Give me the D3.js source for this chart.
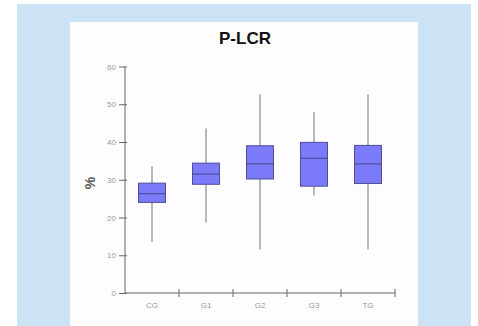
<!DOCTYPE html>
<html>
<head>
<meta charset="utf-8">
<script src="https://cdn.jsdelivr.net/npm/d3@7"></script>
<style>
  html, body { margin: 0; padding: 0; background: #ffffff; }
  svg { display: block; }
</style>
</head>
<body>
<svg id="chart" width="478" height="326"></svg>
<script>
// box plot values
const groups = ['CG', 'G1', 'G2', 'G3', 'TG'];
const whiskerLow = [13.5, 18.7, 11.6, 25.8, 11.6];
const q1 = [24.0, 28.8, 30.2, 28.3, 29.0];
const median = [26.3, 31.5, 34.2, 35.7, 34.2];
const q3 = [29.1, 34.4, 39.0, 39.9, 39.1];
const whiskerHigh = [33.6, 43.6, 52.6, 47.9, 52.6];
const yTicks = [0, 10, 20, 30, 40, 50, 60];

const svg = d3.select('#chart');

// backgrounds
svg.append('rect')
    .attr('x', 17).attr('y', 4)
    .attr('width', 454).attr('height', 322)
    .attr('fill', '#cce2f5');

svg.append('rect')
    .attr('x', 70).attr('y', 22)
    .attr('width', 348).attr('height', 304)
    .attr('fill', '#fdfdfd');

const x = d3.scaleBand()
    .domain(groups)
    .range([125, 395]);

const y = d3.scaleLinear()
    .domain([0, 60])
    .range([293, 66.5]);

// Title
svg.append('text')
    .attr('x', 245)
    .attr('y', 44)
    .attr('text-anchor', 'middle')
    .style('font-family', 'Liberation Sans, Arial, sans-serif')
    .style('font-weight', 'bold')
    .style('font-size', '17px')
    .attr('fill', '#111')
    .text('P-LCR');

// Y axis
const yAxis = svg.append('g')
    .attr('transform', 'translate(125,0)')
    .call(d3.axisLeft(y).tickValues(yTicks).tickSize(6).tickPadding(3));
yAxis.selectAll('.tick line').attr('x1', 2);
yAxis.select('.domain').attr('d', 'M0,' + y(60) + 'V' + y(0));

// X axis
const xAxis = svg.append('g')
    .attr('transform', 'translate(0,293)')
    .call(d3.axisBottom(x).tickSize(0).tickPadding(9));
xAxis.select('.domain').attr('d', 'M125,0H395');

// crossing ticks at band borders
svg.append('g')
    .selectAll('line')
    .data(groups)
    .enter()
    .append('line')
    .attr('x1', d => x(d) + x.bandwidth())
    .attr('x2', d => x(d) + x.bandwidth())
    .attr('y1', 289)
    .attr('y2', 297)
    .attr('stroke', '#666')
    .attr('stroke-width', 1);

svg.selectAll('.domain, .tick line')
    .attr('stroke', '#666');
svg.selectAll('.tick text')
    .attr('fill', '#999')
    .style('font-family', 'Liberation Sans, Arial, sans-serif')
    .style('font-size', '8px');

// Y label
svg.append('text')
    .attr('transform', 'translate(95,183) rotate(-90)')
    .attr('text-anchor', 'middle')
    .style('font-family', 'Liberation Sans, Arial, sans-serif')
    .style('font-weight', 'bold')
    .style('font-size', '14px')
    .attr('fill', '#555')
    .text('%');

// Boxes
const boxW = 27;
const boxes = svg.append('g')
    .selectAll('g')
    .data(groups)
    .enter()
    .append('g');

boxes.append('line')
    .attr('x1', d => x(d) + x.bandwidth() / 2)
    .attr('x2', d => x(d) + x.bandwidth() / 2)
    .attr('y1', (d, i) => y(whiskerHigh[i]))
    .attr('y2', (d, i) => y(whiskerLow[i]))
    .attr('stroke', '#a0a0a0')
    .attr('stroke-width', 1.5);

boxes.append('rect')
    .attr('x', d => x(d) + x.bandwidth() / 2 - boxW / 2)
    .attr('y', (d, i) => y(q3[i]))
    .attr('width', boxW)
    .attr('height', (d, i) => y(q1[i]) - y(q3[i]))
    .attr('fill', '#7b7bfa')
    .attr('stroke', '#4e4e9c')
    .attr('stroke-width', 1);

boxes.append('line')
    .attr('x1', d => x(d) + x.bandwidth() / 2 - boxW / 2)
    .attr('x2', d => x(d) + x.bandwidth() / 2 + boxW / 2)
    .attr('y1', (d, i) => y(median[i]))
    .attr('y2', (d, i) => y(median[i]))
    .attr('stroke', '#4e4e9c')
    .attr('stroke-width', 1.2);
</script>
</body>
</html>
